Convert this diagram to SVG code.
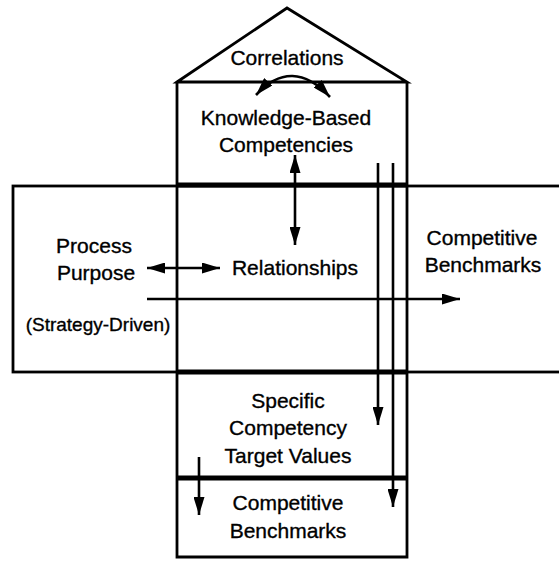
<svg xmlns="http://www.w3.org/2000/svg" width="559" height="568" viewBox="0 0 559 568">
<style>
.ln{stroke:#000;fill:none;stroke-width:2.8}
.thick{stroke:#000;fill:none;stroke-width:5}
.ar{stroke:#000;fill:none;stroke-width:2.6}
text{font-family:"Liberation Sans",Arial,sans-serif;font-size:21px;fill:#000;stroke:#000;stroke-width:0.35;text-anchor:middle}
</style>
<defs>
<marker id="ah" viewBox="0 0 18 11" refX="18" refY="5.5" markerWidth="18" markerHeight="11" markerUnits="userSpaceOnUse" orient="auto-start-reverse">
<path d="M0,0 L18,5.5 L0,11 z" fill="#000"/>
</marker>
</defs>
<rect width="559" height="568" fill="#fff"/>
<g id="house">
<path class="ln" d="M177,82 L287,8 L407,82 Z"/>
<path class="ln" d="M177,82 L177,557 L407,557 L407,82"/>
</g>
<g id="band">
<rect class="ln" x="13" y="186" width="560" height="186"/>
<line class="thick" x1="177" y1="185" x2="407" y2="185"/>
<line class="thick" x1="177" y1="372" x2="407" y2="372"/>
<line class="thick" x1="177" y1="478" x2="407" y2="478"/>
</g>
<g id="connectors">
<path class="ar" d="M256,95 Q292,56 330,97" stroke-width="3.2" marker-start="url(#ah)" marker-end="url(#ah)"/>
<line class="ar" x1="295" y1="155" x2="295" y2="245" marker-start="url(#ah)" marker-end="url(#ah)"/>
<line class="ar" x1="147" y1="268" x2="220" y2="268" marker-start="url(#ah)" marker-end="url(#ah)"/>
<line class="ar" x1="147" y1="299" x2="460" y2="299" marker-end="url(#ah)"/>
<line class="ar" x1="378" y1="163" x2="378" y2="425" marker-end="url(#ah)"/>
<line class="ar" x1="393" y1="163" x2="393" y2="507" marker-end="url(#ah)"/>
<line class="ar" x1="199" y1="457" x2="199" y2="515" marker-end="url(#ah)"/>
</g>
<g id="correlations"><text x="287" y="65">Correlations</text></g>
<g id="kbc"><text x="286" y="125">Knowledge-Based</text><text x="286" y="152">Competencies</text></g>
<g id="process"><text x="94" y="253">Process</text><text x="96" y="280">Purpose</text><text x="98" y="331" style="font-size:19px">(Strategy-Driven)</text></g>
<g id="relationships"><text x="295" y="275">Relationships</text></g>
<g id="benchmarks-right"><text x="482" y="245">Competitive</text><text x="483" y="272">Benchmarks</text></g>
<g id="targets"><text x="288" y="408">Specific</text><text x="288" y="435">Competency</text><text x="288" y="463">Target Values</text></g>
<g id="benchmarks-bottom"><text x="288" y="510">Competitive</text><text x="288" y="538">Benchmarks</text></g>
</svg>
